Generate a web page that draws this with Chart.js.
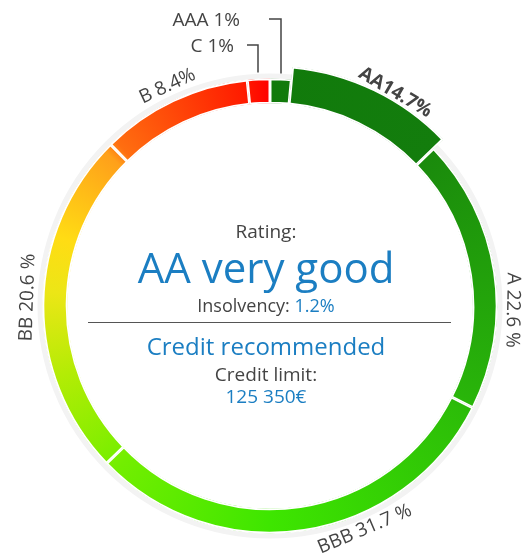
<!DOCTYPE html>
<html>
<head>
<meta charset="utf-8">
<script src="https://cdn.jsdelivr.net/npm/chart.js@4.4.1/dist/chart.umd.min.js"></script>
<style>
  html, body { margin: 0; padding: 0; background: #fff; }
  #wrap { position: relative; width: 524px; height: 558px; font-family: 'Open Sans', sans-serif; }
  #wrap canvas { position: absolute; left: 0; top: 0; }
  .t { position: absolute; left: 0; width: 532px; text-align: center; line-height: 1; white-space: nowrap; color: #444; }
  .blue { color: #1b7ec2; }
  #rule { position: absolute; left: 88px; top: 322px; width: 363px; height: 0; border-top: 1.5px solid #555; }
</style>
</head>
<body>
<div id="wrap">
  <canvas id="rating" width="524" height="558"></canvas>
  <div class="t" style="top:222px;font-size:19px">Rating:</div>
  <div class="t blue" style="top:246px;font-size:42px">AA very good</div>
  <div class="t" style="top:296px;font-size:18px">Insolvency: <span class="blue">1.2%</span></div>
  <div id="rule"></div>
  <div class="t blue" style="top:334px;font-size:24px">Credit recommended</div>
  <div class="t" style="top:365px;font-size:19px">Credit limit:</div>
  <div class="t blue" style="top:387px;font-size:19px">125 350€</div>
</div>
<script>
// rating classes, clockwise from the top
const categories = ['AAA', 'AA', 'A', 'BBB', 'BB', 'B', 'C'];
// printed shares (%) as in the labels
const shares = [1, 14.7, 22.6, 31.7, 20.6, 8.4, 1];
// slice sizes as actually drawn in the picture (they don't follow the labels exactly)
const sliceSizes = [1.5, 11.3, 19.6, 30.4, 24.8, 10.8, 1.6];
const ringLabels = ['AAA 1%', 'AA14.7%', 'A 22.6 %', 'BBB 31.7 %', 'BB 20.6 %', 'B 8.4%', 'C 1%'];
const selected = 'AA';

// where each curved label sits (degrees clockwise from top), null = leader label
const labelAngle = [null, 30.4, 91, 157, 272, 335, null];

const gradStops = [
  [0, '#117a0b'], [0.128, '#137d0d'], [0.129, '#1a8a0c'], [0.32, '#29b50a'],
  [0.33, '#2cbd08'], [0.5, '#3ee600'], [0.62, '#72ee00'], [0.635, '#80ee00'],
  [0.70, '#b4ec05'], [0.76, '#ece616'], [0.80, '#ffdc14'], [0.87, '#ffa01a'],
  [0.88, '#ff6e10'], [0.98, '#ff1c00'], [1, '#ff0000']
];

function ringGradient(context) {
  const chart = context.chart;
  const area = chart.chartArea;
  if (!area) return gradStops[0][1];
  const cx = (area.left + area.right) / 2, cy = (area.top + area.bottom) / 2;
  const g = chart.ctx.createConicGradient(-Math.PI / 2, cx, cy);
  gradStops.forEach(s => g.addColorStop(s[0], s[1]));
  return g;
}

const ringExtras = {
  id: 'ringExtras',
  afterDatasetUpdate(chart, args) {
    // selected class sticks out of the ring
    const arc = args.meta.data[categories.indexOf(selected)];
    if (arc) arc.outerRadius += 13;
  },
  beforeDatasetsDraw(chart) {
    const ctx = chart.ctx;
    const a = chart.getDatasetMeta(0).data[0];
    ctx.save();
    ctx.beginPath();
    ctx.arc(a.x, a.y, a.outerRadius + 2.5, 0, Math.PI * 2);
    ctx.lineWidth = 5;
    ctx.strokeStyle = '#f3f3f3';
    ctx.stroke();
    ctx.restore();
  },
  afterDatasetsDraw(chart) {
    const ctx = chart.ctx;
    const meta = chart.getDatasetMeta(0);
    const a = meta.data[0];
    const cx = a.x, cy = a.y, r = a.outerRadius;
    ctx.save();
    ctx.fillStyle = '#444';
    ctx.textAlign = 'center';
    ctx.textBaseline = 'middle';
    ringLabels.forEach((txt, i) => {
      if (labelAngle[i] === null) return;
      const isSel = categories[i] === selected;
      const rr = r + (isSel ? 20 : 15);
      const th = labelAngle[i] * Math.PI / 180;
      let rot = th;
      if (labelAngle[i] > 100 && labelAngle[i] < 260) rot = th - Math.PI;
      ctx.save();
      ctx.translate(cx + rr * Math.sin(th), cy - rr * Math.cos(th));
      ctx.rotate(rot);
      ctx.font = (isSel ? 'bold ' : '') + '19px "Open Sans"';
      ctx.fillText(txt, 0, 0);
      ctx.restore();
    });

    // leader labels for the thin slices at the top
    ctx.font = '19px "Open Sans"';
    ctx.textAlign = 'right';
    ctx.strokeStyle = '#444';
    ctx.lineWidth = 1.5;
    const top = cy - r;
    const leaders = [
      { i: categories.indexOf('AAA'), lx: cx + 11, ly: 19, tx: cx - 30, len: 12, end: top - 5 },
      { i: categories.indexOf('C'), lx: cx - 12, ly: 45, tx: cx - 36, len: 11, end: top - 6 }
    ];
    leaders.forEach(l => {
      ctx.fillText(ringLabels[l.i], l.tx, l.ly + 2);
      ctx.beginPath();
      ctx.moveTo(l.lx - l.len, l.ly);
      ctx.lineTo(l.lx, l.ly);
      ctx.lineTo(l.lx, l.end);
      ctx.stroke();
    });
    ctx.restore();
  }
};

new Chart(document.getElementById('rating'), {
  type: 'doughnut',
  data: {
    labels: categories,
    datasets: [{
      data: sliceSizes,
      backgroundColor: ringGradient,
      borderColor: '#fff',
      borderWidth: 1.5,
      borderAlign: 'inner',
      hoverOffset: 0,
      clip: false
    }]
  },
  options: {
    responsive: false,
    animation: false,
    cutout: '89%',
    layout: { padding: { left: 16, right: 0, top: 78.5, bottom: 24.5 } },
    plugins: {
      legend: { display: false },
      tooltip: { enabled: false }
    }
  },
  plugins: [ringExtras]
});
</script>
</body>
</html>
